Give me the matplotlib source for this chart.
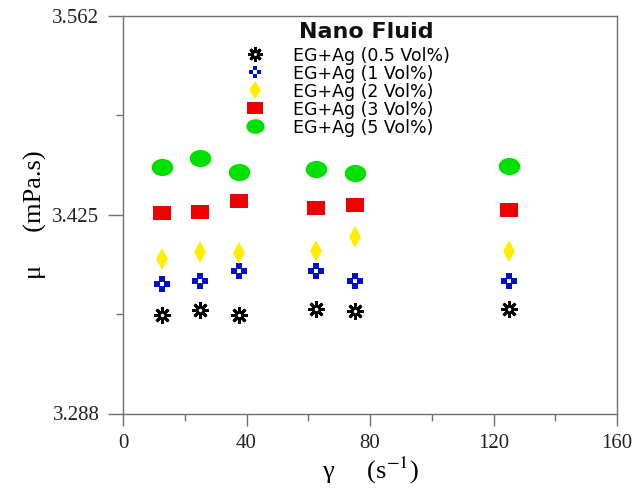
import numpy as np
import matplotlib
matplotlib.use('Agg')
from matplotlib import pyplot as plt
from matplotlib.path import Path
from matplotlib.transforms import Affine2D
from matplotlib.ticker import MultipleLocator, FixedLocator

plt.rcParams['font.family'] = ['Liberation Serif', 'DejaVu Serif']
plt.rcParams['mathtext.fontset'] = 'stix'

# 数据
shear_rate = [12.5, 25, 37.5, 62.5, 75, 125]
mu_05 = [3.3560, 3.3594, 3.3560, 3.3599, 3.3586, 3.3599]
mu_1 = [3.3776, 3.3796, 3.3865, 3.3865, 3.3796, 3.3796]
mu_2 = [3.3946, 3.3996, 3.3989, 3.4001, 3.4100, 3.4001]
mu_3 = [3.4261, 3.4268, 3.4346, 3.4295, 3.4318, 3.4283]
mu_5 = [3.4582, 3.4640, 3.4547, 3.4566, 3.4537, 3.4589]
labels = ['EG+Ag (0.5 Vol%)', 'EG+Ag (1 Vol%)', 'EG+Ag (2 Vol%)',
          'EG+Ag (3 Vol%)', 'EG+Ag (5 Vol%)']
y_ticks = [3.288, 3.425, 3.562]
x_ticks = [0, 40, 80, 120, 160]

# 自定义标记：扁矩形和椭圆
rect = Path([(-1, -0.8), (1, -0.8), (1, 0.8), (-1, 0.8), (-1, -0.8)],
            [Path.MOVETO, Path.LINETO, Path.LINETO, Path.LINETO, Path.CLOSEPOLY])
ellipse = Path.unit_circle().transformed(Affine2D().scale(1, 0.8))

fig = plt.figure(figsize=(6.33, 4.95), dpi=100)
ax = fig.add_axes([123 / 633, 1 - 413.5 / 495, 494 / 633, 397.5 / 495])

h1a, = ax.plot(shear_rate, mu_05, ls='none', marker=(8, 2, 0), ms=12, mew=2.0, color='black')
h1b, = ax.plot(shear_rate, mu_05, ls='none', marker='o', ms=6, mew=0, color='black')
h1c, = ax.plot(shear_rate, mu_05, ls='none', marker='o', ms=2.5, mew=0, color='white')
h2a, = ax.plot(shear_rate, mu_1, ls='none', marker='P', ms=11, mew=0, color='#0010cc')
h2b, = ax.plot(shear_rate, mu_1, ls='none', marker='s', ms=3, mew=0, color='white')
h3, = ax.plot(shear_rate, mu_2, ls='none', marker='d', ms=11, mew=0, color='#ffee00')
h4, = ax.plot(shear_rate, mu_3, ls='none', marker=rect, ms=13, mew=0, color='#ee0000')
h5, = ax.plot(shear_rate, mu_5, ls='none', marker=ellipse, ms=15.5, mew=0, color='#00e000')

ax.legend([(h1a, h1b, h1c), (h2a, h2b), h3, h4, h5], labels,
          loc='upper left', bbox_to_anchor=(0.214, 0.945),
          frameon=False, borderpad=0, handlelength=2.0, handletextpad=1.2,
          labelspacing=0.0, markerscale=0.85, prop={'family': 'DejaVu Sans', 'size': 12.5})
ax.text(0.492, 0.985, 'Nano Fluid', transform=ax.transAxes, ha='center', va='top',
        family='DejaVu Sans', fontsize=16, fontweight='bold', color='#111111')

ax.set_xlim(0, 160)
ax.set_ylim(3.288, 3.562)
ax.xaxis.set_major_locator(FixedLocator(x_ticks))
ax.xaxis.set_minor_locator(MultipleLocator(20))
ax.yaxis.set_major_locator(FixedLocator(y_ticks))
ax.yaxis.set_minor_locator(FixedLocator([3.3565, 3.4935]))
ax.set_yticklabels(['%.3f' % v for v in y_ticks])

for s in ax.spines.values():
    s.set_color('#707070')
    s.set_linewidth(1.0)
ax.tick_params(axis='both', which='both', direction='out', color='#707070',
               labelsize=15, labelcolor='#222222', width=1.0)
ax.tick_params(axis='y', which='major', length=11, pad=6)
ax.tick_params(axis='x', which='major', length=8.5, pad=6)
ax.tick_params(axis='both', which='minor', length=5)

ax.set_ylabel('μ     (mPa.s)', fontsize=19, labelpad=4)
ax.set_xlabel('γ     (s$^{-1}$)', fontsize=19, labelpad=2)

fig.savefig('out.png', dpi=100)
